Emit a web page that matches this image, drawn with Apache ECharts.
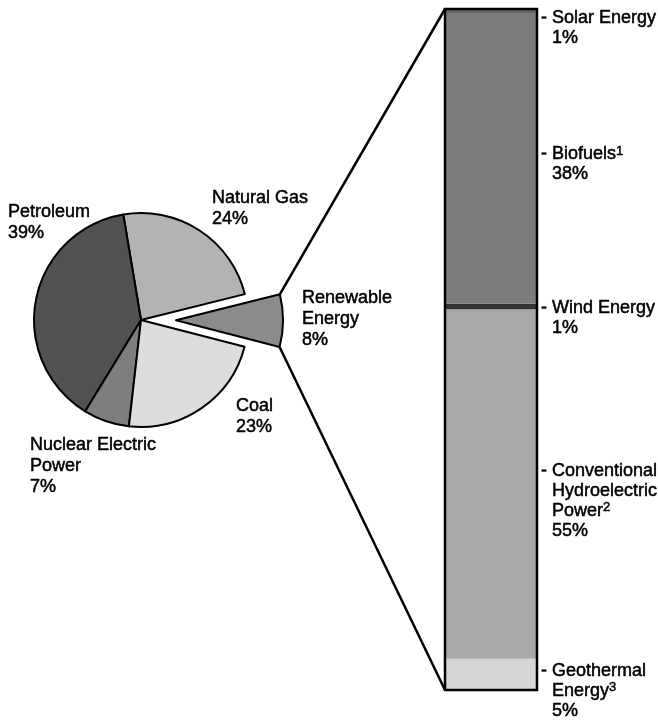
<!DOCTYPE html>
<html>
<head>
<meta charset="utf-8">
<script src="https://cdn.jsdelivr.net/npm/echarts@6/dist/echarts.min.js"></script>
<style>
  html, body { margin: 0; padding: 0; background: #fff; }
  #chart { width: 658px; height: 725px; }
</style>
</head>
<body>
<div id="chart"></div>
<script>
// Energy consumption by source (pie), counter-clockwise from the right
const pieNames = ['Natural Gas', 'Petroleum', 'Nuclear Electric\nPower', 'Coal', 'Renewable\nEnergy'];
const pieShares = [24, 39, 7, 23, 8];

// Renewable breakdown (bar), bottom to top
const renewNames = ['Geothermal\nEnergy', 'Conventional\nHydroelectric\nPower', 'Wind Energy', 'Biofuels', 'Solar Energy'];
const renewNotes = ['3', '2', '', '1', ''];
const renewShares = [5, 55, 1, 38, 1];
// segment heights as drawn in the picture (percent of the bar)
const renewDrawn = [4.6, 51.3, 0.8, 42.7, 0.6];

// styling
const FONT = '"Liberation Sans", Arial, sans-serif';
const pieColors = ['#b3b3b3', '#525252', '#7e7e7e', '#dddddd', '#8b8b8b'];
const barColors = ['#d5d5d5', '#a8a8a8', '#333333', '#7c7c7c', '#676767'];
const pieLabelPos = [[212, 188], [8, 202], [30, 435], [236, 396], [302, 288]];
const barLabelDy = [-13, -23, -9, -14, -3];
const TEXT_STROKE = { textBorderColor: '#000', textBorderWidth: 0.5 };

const PIE_C = [141, 320];
const PIE_R = 107;
const PIE_START = 14;
const PIE_OFFSET = 35;
const BAR_GRID = { left: 445, top: 9, width: 92, bottom: 35 };
const EXPLODED = pieNames.length - 1;

// angles of the exploded slice and the centre it is pushed out to
const total = pieShares.reduce((a, b) => a + b, 0);
const before = pieShares.slice(0, EXPLODED).reduce((a, b) => a + b, 0);
const expA0 = PIE_START + before / total * 360;
const expA1 = expA0 + pieShares[EXPLODED] / total * 360;
const expMid = (expA0 + expA1) / 2 * Math.PI / 180;
const EXP_C = [PIE_C[0] + PIE_OFFSET * Math.cos(expMid), PIE_C[1] - PIE_OFFSET * Math.sin(expMid)];

const chart = echarts.init(document.getElementById('chart'), null, { renderer: 'canvas' });

function barLabel(i) {
  const lines = renewNames[i].split('\n');
  const out = lines.map((ln, k) => {
    let s = (k === 0 ? '{d|-}' : '{p| }') + '{t|' + ln + '}';
    if (k === lines.length - 1 && renewNotes[i]) s += '{sup|' + renewNotes[i] + '}';
    return s;
  });
  out.push('{p| }{t|' + renewShares[i] + '%}');
  return out.join('\n');
}

const barSeries = renewNames.map((name, i) => ({
  name: name,
  type: 'bar',
  stack: 'renew',
  barWidth: '100%',
  data: [renewDrawn[i]],
  itemStyle: { color: barColors[i] },
  label: {
    show: true,
    position: ['100%', '50%'],
    align: 'left',
    verticalAlign: 'top',
    offset: [4, barLabelDy[i]],
    formatter: () => barLabel(i),
    rich: {
      d: { width: 11, fontSize: 18, fontFamily: FONT, color: '#000', lineHeight: 20, ...TEXT_STROKE },
      p: { width: 11, fontSize: 18, fontFamily: FONT, lineHeight: 20 },
      t: { fontSize: 18, fontFamily: FONT, color: '#000', lineHeight: 20, ...TEXT_STROKE },
      sup: { fontSize: 13, fontFamily: FONT, color: '#000', verticalAlign: 'top', lineHeight: 20, ...TEXT_STROKE }
    }
  }
}));

const pieLabel = {
  show: true,
  position: 'outside',
  alignTo: 'none',
  overflow: 'none',
  formatter: '{b}\n{c}%',
  fontSize: 18,
  fontFamily: FONT,
  color: '#000',
  lineHeight: 21,
  ...TEXT_STROKE
};

// one pie: main body (exploded slice hidden) and the exploded slice on its own
function pieSeries(center, showExploded) {
  return {
    type: 'pie',
    center: center,
    radius: PIE_R,
    startAngle: PIE_START,
    clockwise: false,
    avoidLabelOverlap: false,
    silent: true,
    emphasis: { disabled: true },
    itemStyle: { borderColor: '#000', borderWidth: 2 },
    labelLine: { show: false },
    label: pieLabel,
    labelLayout: (p) => ({
      x: pieLabelPos[p.dataIndex][0],
      y: pieLabelPos[p.dataIndex][1],
      align: 'left',
      verticalAlign: 'top',
      hideOverlap: false
    }),
    data: pieNames.map((n, i) => {
      const visible = (i === EXPLODED) === showExploded;
      return {
        name: n,
        value: pieShares[i],
        itemStyle: visible ? { color: pieColors[i] } : { color: 'rgba(0,0,0,0)', borderWidth: 0 },
        label: { show: visible }
      };
    })
  };
}

chart.setOption({
  animation: false,
  backgroundColor: '#fff',
  grid: BAR_GRID,
  xAxis: { type: 'category', data: ['Renewable'], show: false },
  yAxis: { type: 'value', min: 0, max: 100, show: false },
  series: [
    pieSeries(PIE_C, false),
    pieSeries(EXP_C, true),
    ...barSeries
  ]
});

// connector lines from the exploded slice to the bar, plus the bar outline
function drawConnectors() {
  const pt = (deg) => [EXP_C[0] + PIE_R * Math.cos(deg * Math.PI / 180), EXP_C[1] - PIE_R * Math.sin(deg * Math.PI / 180)];
  const upper = pt(expA1);
  const lower = pt(expA0);

  const yTop = chart.convertToPixel({ yAxisIndex: 0 }, 100);
  const yBot = chart.convertToPixel({ yAxisIndex: 0 }, 0);
  const xl = BAR_GRID.left;
  const xr = BAR_GRID.left + BAR_GRID.width;

  const line = { stroke: '#000', lineWidth: 2.5 };
  chart.setOption({
    graphic: [
      { type: 'line', z: 10, shape: { x1: upper[0], y1: upper[1], x2: xl, y2: yTop }, style: line },
      { type: 'line', z: 10, shape: { x1: lower[0], y1: lower[1], x2: xl, y2: yBot }, style: line },
      { type: 'rect', z: 10, shape: { x: xl, y: yTop, width: xr - xl, height: yBot - yTop },
        style: { fill: 'none', stroke: '#000', lineWidth: 2.5 } }
    ]
  });
}
drawConnectors();
</script>
</body>
</html>
